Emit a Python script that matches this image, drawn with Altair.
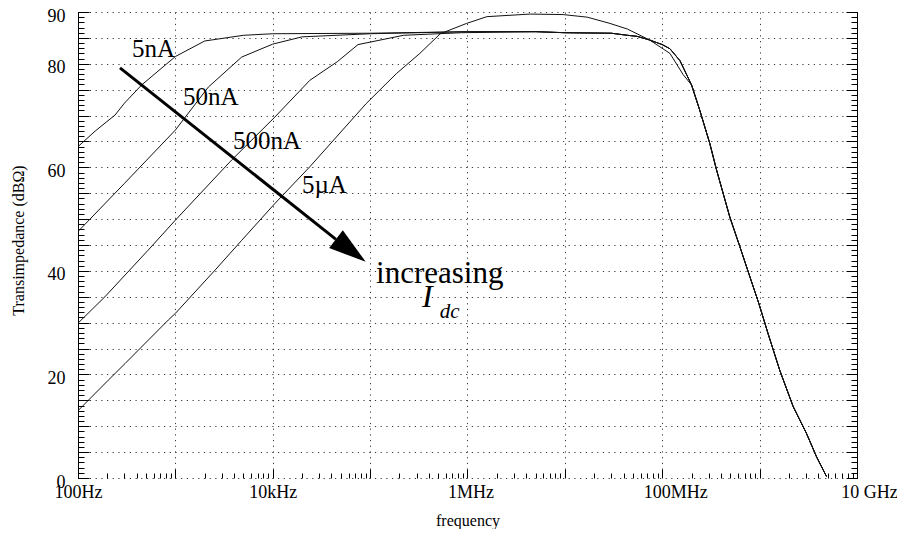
import altair as alt
import pandas as pd

FONT = "Liberation Serif"

# ---- curve data (frequency in Hz, transimpedance in dB-ohm) ----
f_5nA = [100, 150, 240, 300, 450, 1000, 2000, 5000, 1e4, 1e5, 1e6, 5e6, 1e7, 3e7, 4.4e7, 5.5e7, 7.4e7, 1e8, 1.2e8]
v_5nA = [64.0, 67.0, 70.1, 72.4, 75.9, 81.4, 84.4, 85.5, 85.8, 85.9, 86.2, 86.2, 86.0, 85.9, 85.5, 85.3, 84.6, 83.7, 82.9]

f_50nA = [100, 300, 1000, 2180, 4800, 1e4, 2e4, 1e5, 1e6, 5e6, 1e7, 3e7, 4.4e7, 5.5e7, 7.4e7, 1e8, 1.2e8]
v_50nA = [47.6, 56.9, 67.2, 75.5, 81.3, 83.8, 85.2, 85.8, 86.2, 86.2, 86.0, 85.9, 85.5, 85.3, 84.6, 83.7, 82.9]

f_500nA = [100, 189, 525, 1000, 3780, 1.05e4, 2.4e4, 4.6e4, 7.5e4, 2.2e5, 8.7e5, 5e6, 1e7, 3e7, 4.4e7, 5.5e7, 7.4e7, 1e8, 1.2e8]
v_500nA = [29.9, 35.0, 44.0, 49.8, 61.4, 69.7, 76.8, 80.4, 83.7, 85.5, 86.0, 86.2, 86.0, 85.9, 85.5, 85.3, 84.6, 83.7, 82.9]

f_5uA = [100, 205, 304, 845, 1000, 2570, 4800, 1.05e4, 2.4e4, 9.1e4, 1.86e5, 3.24e5, 5.25e5, 9.8e5,
         1.58e6, 4.4e6, 9.6e6, 1.7e7, 2.9e7, 4.4e7, 7.4e7, 1.2e8, 1.64e8]
v_5uA = [13.0, 18.9, 22.1, 30.5, 31.8, 40.2, 45.9, 53.0, 60.1, 72.3, 78.1, 82.0, 85.8, 87.8,
         89.1, 89.6, 89.5, 89.0, 87.8, 86.7, 84.6, 82.0, 77.9]

# common roll-off above ~150 MHz
f_tail = [1.52e8, 2.0e8, 2.43e8, 3.08e8, 3.61e8, 4.94e8, 6.26e8, 7.93e8, 9.82e8, 1.22e9, 1.61e9, 2.21e9, 3.03e9, 3.84e9, 4.86e9]
v_tail = [80.6, 75.9, 71.0, 64.6, 59.5, 50.4, 44.7, 38.9, 33.7, 27.9, 20.8, 13.8, 8.6, 4.1, 0.3]

# ---- axis tick values / labels ----
x_decades = [1e2, 1e3, 1e4, 1e5, 1e6, 1e7, 1e8, 1e9, 1e10]
x_label_exp = [2, 4, 6, 8, 10]
x_label_text = ["100Hz", "10kHz", "1MHz", "100MHz", "10 GHz"]
x_label_shift = [0, 0, 3, 13, 12]
y_grid = [0, 5, 10, 15, 20, 25, 30, 35, 40, 45, 50, 55, 60, 65, 70, 75, 80, 85, 90]
y_labels = [0, 20, 40, 60, 80, 90]

# ---- annotations ----
curve_labels = ["5nA", "50nA", "500nA", "5\u00b5A"]
curve_label_f = [358, 1197, 3900, 1.995e4]
curve_label_v = [82.8, 73.5, 65.0, 56.6]

arrow_start = (270, 79.2)
arrow_end = (4.46e4, 46.1)
arrow_head = (6.34e4, 43.94)

incr_pos = (1.15e5, 37.6)
I_pos = (3.4e5, 33.0)
dc_pos = (5.2e5, 30.9)

# ---- build tables ----
rows = []
for name, fs, vs, tail_from in [("5nA", f_5nA, v_5nA, 0), ("50nA", f_50nA, v_50nA, 0),
                                 ("500nA", f_500nA, v_500nA, 0), ("5uA", f_5uA, v_5uA, 1)]:
    for f, v in zip(fs + f_tail[tail_from:], vs + v_tail[tail_from:]):
        rows.append({"series": name, "f": f, "v": v})
curves = pd.DataFrame(rows)

x_scale = alt.Scale(type="log", domain=[100, 1e10], nice=False)
y_scale = alt.Scale(domain=[0, 90], nice=False, zero=False)

anchor = pd.DataFrame({"f": [100.0], "v": [0.0]})

minor_x = [m * 10 ** k for k in range(2, 10) for m in range(2, 10)]
minor_y = list(range(0, 91))

label_expr = "".join(
    f"round(log(datum.value)/LN10) == {e} ? '{t}' : " for e, t in zip(x_label_exp, x_label_text)
) + "''"
offset_conditions = [
    {"test": f"round(log(datum.value)/LN10) == {e}", "value": s}
    for e, s in zip(x_label_exp, x_label_shift) if s != 0
]
ylab_expr = " || ".join(f"datum.value == {v}" for v in y_labels)
ylab_expr = f"({ylab_expr}) ? datum.label : ''"

GRID = dict(gridColor="#222", gridDash=[1.2, 4.5], gridWidth=1, gridOpacity=0.9)


def axis_layer(xaxis, yaxis):
    return alt.Chart(anchor).mark_point(opacity=0).encode(
        x=alt.X("f:Q", scale=x_scale, axis=xaxis),
        y=alt.Y("v:Q", scale=y_scale, axis=yaxis),
    )


x_main = alt.Axis(
    orient="bottom", values=x_decades, labelExpr=label_expr, ticks=False, domain=False,
    grid=True, **GRID, labelFont=FONT, labelFontSize=18, labelColor="black", labelPadding=5,
    labelFlush=False, labelOverlap=False, labelBound=False,
    labelOffset={"condition": offset_conditions, "value": 0},
    title="frequency", titleFont=FONT, titleFontSize=16, titleFontWeight="normal",
    titleColor="black", titlePadding=11,
)
y_main = alt.Axis(
    orient="left", values=y_grid, labelExpr=ylab_expr, ticks=False, domain=True,
    domainColor="black", domainWidth=1, grid=True, **GRID,
    labelFont=FONT, labelFontSize=18, labelColor="black", labelPadding=13, labelOffset=4,
    labelOverlap=False, labelFlush=False,
    title="Transimpedance (dB\u03a9)", titleFont=FONT, titleFontSize=16, titleFontWeight="normal",
    titleColor="black", titleAngle=-90, titleX=-60, titleY=228, titleAlign="center", titleBaseline="middle",
)


def tick_axis(orient, values, size):
    return alt.Axis(orient=orient, values=values, tickSize=size, offset=-size, labels=False,
                    domain=False, grid=False, ticks=True, tickColor="black", tickWidth=1, title=None)


layers = [
    axis_layer(x_main, y_main),
    axis_layer(tick_axis("bottom", minor_x, 5), tick_axis("left", minor_y, 6)),
    axis_layer(tick_axis("bottom", x_decades, 9), tick_axis("left", y_grid, 11)),
    axis_layer(None, alt.Axis(orient="right", values=y_grid, labels=False, ticks=False, grid=False,
                              domain=True, domainColor="black", title=None)),
    axis_layer(None, tick_axis("right", minor_y, 6)),
    axis_layer(None, tick_axis("right", y_grid, 11)),
]

lines = alt.Chart(curves).mark_line(color="#111", strokeWidth=1, clip=True).encode(
    x=alt.X("f:Q", scale=x_scale, axis=None),
    y=alt.Y("v:Q", scale=y_scale, axis=None),
    detail="series:N",
)
layers.append(lines)

arrow_df = pd.DataFrame({"f": [arrow_start[0]], "v": [arrow_start[1]],
                         "f2": [arrow_end[0]], "v2": [arrow_end[1]]})
arrow = alt.Chart(arrow_df).mark_rule(color="black", strokeWidth=3).encode(
    x=alt.X("f:Q", scale=x_scale, axis=None), y=alt.Y("v:Q", scale=y_scale, axis=None),
    x2="f2:Q", y2="v2:Q",
)
head_df = pd.DataFrame({"f": [arrow_head[0]], "v": [arrow_head[1]]})
head = alt.Chart(head_df).mark_point(
    shape="M0,-1L0.6,1L-0.6,1Z", size=1400, angle=127.4, filled=True, color="black",
    opacity=1, strokeWidth=0,
).encode(x=alt.X("f:Q", scale=x_scale, axis=None), y=alt.Y("v:Q", scale=y_scale, axis=None))
layers += [arrow, head]

lab_df = pd.DataFrame({"f": curve_label_f, "v": curve_label_v, "t": curve_labels})
labs = alt.Chart(lab_df).mark_text(font=FONT, fontSize=25, align="left", baseline="middle",
                                   color="black").encode(
    x=alt.X("f:Q", scale=x_scale, axis=None), y=alt.Y("v:Q", scale=y_scale, axis=None), text="t:N")
layers.append(labs)


def one_text(pos, txt, size, style="normal"):
    d = pd.DataFrame({"f": [pos[0]], "v": [pos[1]], "t": [txt]})
    return alt.Chart(d).mark_text(font=FONT, fontSize=size, fontStyle=style, align="left",
                                  baseline="alphabetic", color="black").encode(
        x=alt.X("f:Q", scale=x_scale, axis=None), y=alt.Y("v:Q", scale=y_scale, axis=None), text="t:N")


layers += [one_text(incr_pos, "increasing", 31), one_text(I_pos, "I", 32, "italic"),
           one_text(dc_pos, "dc", 21, "italic")]

chart = alt.layer(*layers).resolve_axis(x="independent", y="independent").properties(
    width=779, height=466,
    autosize=alt.AutoSizeParams(type="none"),
    padding={"left": 70, "top": 4, "right": 40, "bottom": 51},
    background="white",
).configure_view(stroke=None)

chart.save("out.html", embed_options={"renderer": "svg", "actions": False})
